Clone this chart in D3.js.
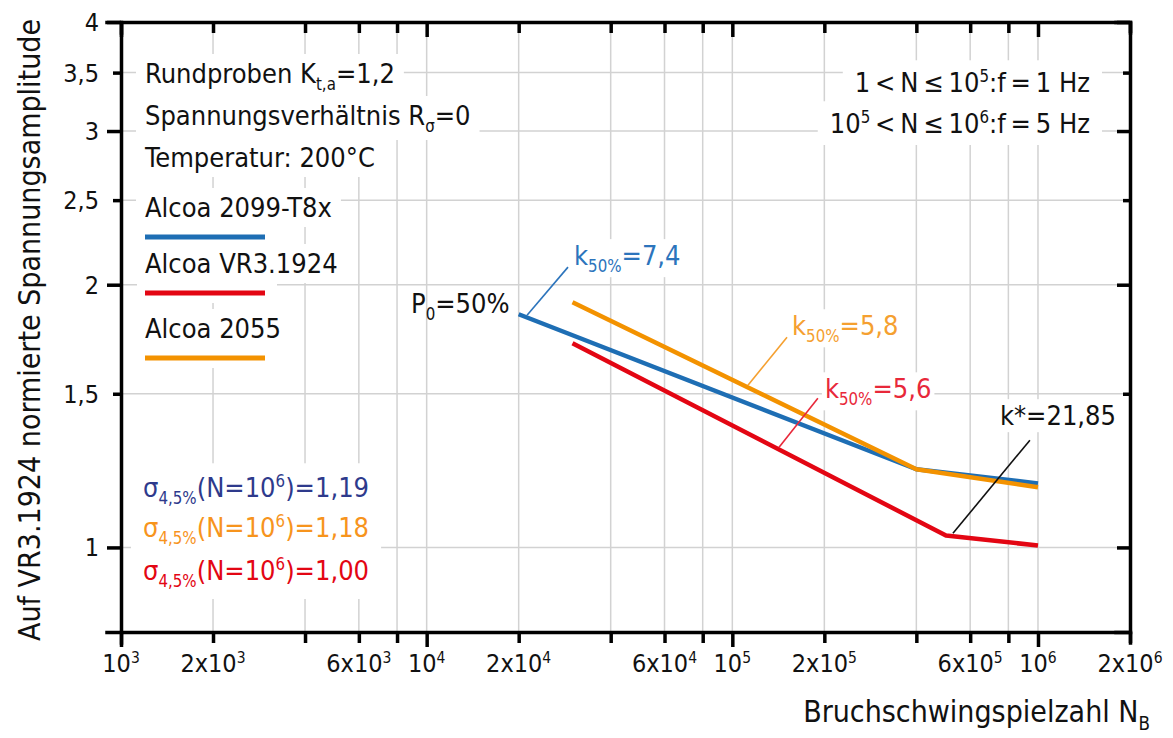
<!DOCTYPE html>
<html><head><meta charset="utf-8">
<script src="https://cdn.jsdelivr.net/npm/d3@7"></script>
<style>
body{margin:0;background:#fff;}
svg text{font-family:"Liberation Sans Narrow","Arial Narrow","DejaVu Sans Condensed",sans-serif;}
</style></head>
<body><svg id="c" width="1173" height="738"></svg>
<script>
// ---- data ----
const xTicks = [1e3,2e3,4e3,6e3,8e3,1e4,2e4,4e4,6e4,8e4,1e5,2e5,4e5,6e5,8e5,1e6,2e6];
const xTickMant = ["","2x","","6x","","","2x","","6x","","","2x","","6x","","","2x"];
const xTickExp  = ["3","3","","3","","4","4","","4","","5","5","","5","","6","6"];
const yTicks = [1,1.5,2,2.5,3,3.5,4];
const yTickLabels = ["1","1,5","2","2,5","3","3,5","4"];
const seriesNames = ["Alcoa 2099-T8x","Alcoa VR3.1924","Alcoa 2055"];
const seriesColors = ["#1e6eb4","#e30613","#f39200"];
const blueN = [2e4,4e5,1e6];   const blueS = [1.85,1.229,1.184];
const redN = [3e4,5e5,1e6];    const redS = [1.714,1.032,1.005];
const orangeN = [3e4,4e5,1e6]; const orangeS = [1.91,1.229,1.172];
// slope annotations: leader from (n1,s1) to (n2,s2)
const annoText = ["7,4","5,8","5,6","21,85"];
const annoColor = ["#2c74bc","#f5a030","#e8283a","#111"];
const annoN1 = [2.9e4,1.51e5,1.905e5,9.41e5];
const annoS1 = [2.095,1.741,1.482,1.327];
const annoN2 = [2.13e4,1.125e5,1.42e5,5.27e5];
const annoS2 = [1.845,1.534,1.302,1.038];
const sigmaVals = ["1,19","1,18","1,00"];
const sigmaColors = ["#2e3a8c","#f7941d","#e30613"];

// ---- layout ----
const svg = d3.select("#c");
const x = d3.scaleLog().domain([1e3,2e6]).range([121,1130]);
const y = d3.scaleLog().domain([0.8,4]).range([632,22]);
const L=121,R=1130,T=22,B=632;
const grid = "#d2d2d2";

// grid
svg.append("g").selectAll("line").data(xTicks.slice(1,-1)).join("line")
  .attr("x1",d=>x(d)).attr("x2",d=>x(d)).attr("y1",T).attr("y2",B)
  .attr("stroke",grid).attr("stroke-width",1.5);
svg.append("g").selectAll("line").data(yTicks.slice(0,-1)).join("line")
  .attr("y1",d=>y(d)).attr("y2",d=>y(d)).attr("x1",L).attr("x2",R)
  .attr("stroke",grid).attr("stroke-width",1.5);

const bgLayer = svg.append("g");
const dataLayer = svg.append("g");
const textLayer = svg.append("g");

function addBg(sel, padX, padY){
  sel.each(function(){
    const b=this.getBBox();
    bgLayer.append("rect").attr("x",b.x-padX).attr("y",b.y-padY)
      .attr("width",b.width+2*padX).attr("height",b.height+2*padY).attr("fill","#fff");
  });
}

// helper to write rich text: parts [text, type] type: n normal, sub, sup
function rich(g, xx, yy, parts, size, color, anchor){
  const t = g.append("text").attr("x",xx).attr("y",yy).attr("font-size",size)
    .attr("fill",color||"#111").attr("text-anchor",anchor||"start");
  let cur=0;
  parts.forEach(p=>{
    const [s,k]=p;
    let target = k==="sub"? size*0.26 : k==="sup"? -size*0.36 : 0;
    const ts=t.append("tspan").text(s).attr("dy",target-cur);
    if(k!=="n") ts.attr("font-size",size*0.62);
    cur=target;
  });
  return t;
}

// series
const series = [[blueN,blueS],[redN,redS],[orangeN,orangeS]];
const line = d3.line().x(d=>x(d[0])).y(d=>y(d[1]));
[0,1,2].forEach(i=>{
  const pts = series[i][0].map((n,j)=>[n,series[i][1][j]]);
  dataLayer.append("path").attr("d",line(pts)).attr("fill","none")
    .attr("stroke",seriesColors[i]).attr("stroke-width",4.5).attr("stroke-linejoin","round");
});
// leaders
annoText.forEach((t,i)=>{
  dataLayer.append("line").attr("x1",x(annoN1[i])).attr("y1",y(annoS1[i]))
    .attr("x2",x(annoN2[i])).attr("y2",y(annoS2[i])).attr("stroke",annoColor[i]).attr("stroke-width",1.6);
});

// text block top-left
const FS=27;
const tl=[];
tl.push(rich(textLayer,145,83,[["Rundproben K","n"],["t,a","sub"],["=1,2","n"]],FS));
tl.push(rich(textLayer,145,125,[["Spannungsverhältnis R","n"],["σ","sub"],["=0","n"]],FS));
tl.push(rich(textLayer,145,167,[["Temperatur: 200°C","n"]],FS));
const legY=[217,273,338];
seriesNames.forEach((nm,i)=>{
  tl.push(rich(textLayer,145,legY[i],[[nm,"n"]],FS));
});
addBg(d3.selectAll(tl.map(t=>t.node())),9,4);
seriesNames.forEach((nm,i)=>{
  bgLayer.append("rect").attr("x",137).attr("y",legY[i]).attr("width",140).attr("height",30).attr("fill","#fff");
  textLayer.append("line").attr("x1",145).attr("x2",265).attr("y1",legY[i]+20).attr("y2",legY[i]+20)
    .attr("stroke",seriesColors[i]).attr("stroke-width",5);
});
// top right
const tr=[];
const ts="\u2009";
tr.push(rich(textLayer,1090,92,[["1"+ts+"<"+ts+"N"+ts+"≤"+ts+"10","n"],["5","sup"],[":f"+ts+"="+ts+"1 Hz","n"]],FS,"#111","end"));
tr.push(rich(textLayer,1090,133,[["10","n"],["5","sup"],[ts+"<"+ts+"N"+ts+"≤"+ts+"10","n"],["6","sup"],[":f"+ts+"="+ts+"5 Hz","n"]],FS,"#111","end"));
addBg(d3.selectAll(tr.map(t=>t.node())),12,6);
// sigma
const sg=[];
const sgY=[497,537,580];
sigmaVals.forEach((v,i)=>{
  sg.push(rich(textLayer,143,sgY[i],[["σ","n"],["4,5%","sub"],["(N=10","n"],["6","sup"],[")=","n"],[v,"n"]],FS,sigmaColors[i]));
});
addBg(d3.selectAll(sg.map(t=>t.node())),12,8);
// P0
rich(textLayer,411,313,[["P","n"],["0","sub"],["=50%","n"]],FS);
// k labels
const kl=[];
const kDx=[6,5,7,-30], kDy=[-2,-2,0,-15];
annoText.forEach((t,i)=>{
  const px=x(annoN1[i])+kDx[i], py=y(annoS1[i])+kDy[i];
  const parts = i<3 ? [["k","n"],["50%","sub"],["="+t,"n"]] : [["k*="+t,"n"]];
  kl.push(rich(textLayer,px,py,parts,FS,annoColor[i]));
});
addBg(d3.selectAll(kl.map(t=>t.node())),3,1);

// axes
const ax = svg.append("g");
const isDec = d=>Math.abs(Math.log10(d)-Math.round(Math.log10(d)))<1e-9;
const yMaj = d=>Number.isInteger(d);
function styleAxis(g){ g.selectAll("path,line").attr("stroke","#000").attr("stroke-width",3.5); g.selectAll("text").remove(); }
const xb = ax.append("g").attr("transform",`translate(0,${B})`)
  .call(d3.axisBottom(x).tickValues(xTicks).tickSizeOuter(0).tickSize(11));
xb.selectAll(".tick line").attr("y2",d=>isDec(d)?15:11);
styleAxis(xb);
const xt = ax.append("g").attr("transform",`translate(0,${T})`)
  .call(d3.axisTop(x).tickValues(xTicks).tickSizeOuter(0).tickSize(-11));
xt.selectAll(".tick line").attr("y2",d=>isDec(d)?15:11);
styleAxis(xt);
const yl = ax.append("g").attr("transform",`translate(${L},0)`)
  .call(d3.axisLeft(y).tickValues(yTicks).tickSizeOuter(0).tickSize(14));
yl.selectAll(".tick line").attr("x2",d=>yMaj(d)?-14:-8);
styleAxis(yl);
const yr = ax.append("g").attr("transform",`translate(${R},0)`)
  .call(d3.axisRight(y).tickValues(yTicks).tickSizeOuter(0).tickSize(-14));
yr.selectAll(".tick line").attr("x2",d=>yMaj(d)?-13:-7);
styleAxis(yr);
ax.selectAll(".domain").attr("stroke-linecap","square");

// tick labels
const TFS=25;
xTicks.forEach((d,i)=>{
  if(!xTickExp[i]) return;
  rich(ax,x(d),672,[[xTickMant[i]+"10","n"],[xTickExp[i],"sup"]],TFS,"#111","middle");
});
yTicks.forEach((d,i)=>{
  ax.append("text").attr("x",99).attr("y",y(d)+9).attr("text-anchor","end")
    .attr("font-size",TFS).attr("fill","#111").text(yTickLabels[i]);
});
// axis titles
ax.append("text").attr("transform","translate(40,330) rotate(-90)").attr("text-anchor","middle")
  .attr("font-size",30).attr("fill","#111").text("Auf VR3.1924 normierte Spannungsamplitude");
rich(ax,1150,722,[["Bruchschwingspielzahl N","n"],["B","sub"]],30,"#111","end");
</script></body></html>
